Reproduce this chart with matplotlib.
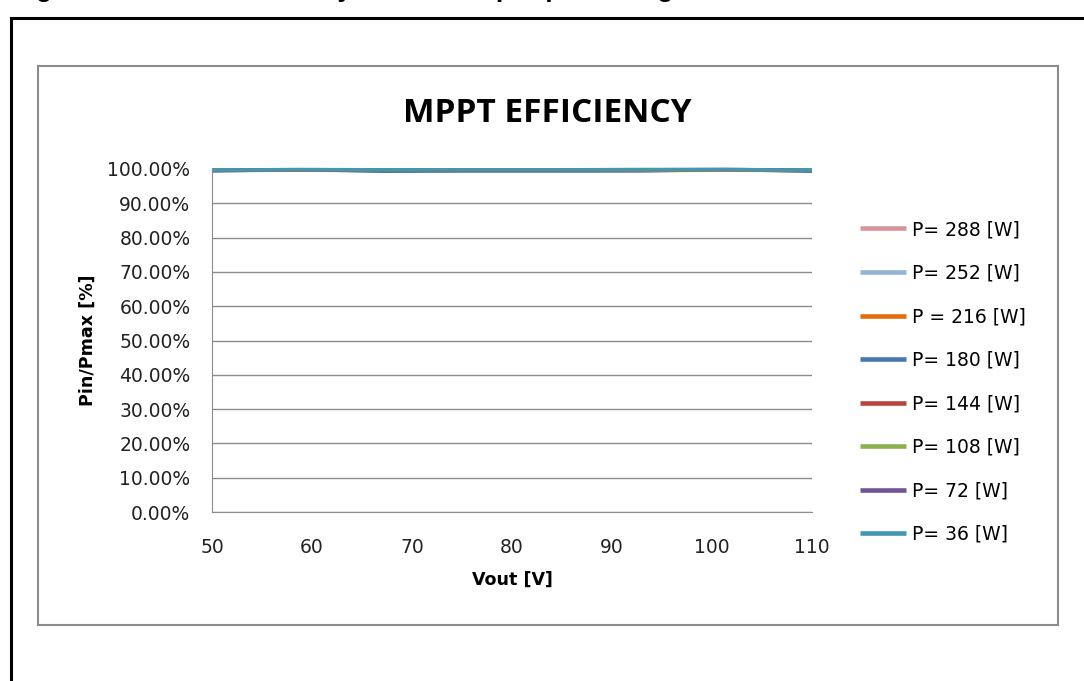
import matplotlib
matplotlib.use('agg')

import matplotlib.pyplot as plt
from matplotlib.patches import Rectangle
from matplotlib.lines import Line2D
from matplotlib.ticker import FuncFormatter

# data
vout = [50, 58.6, 67.1, 75.7, 84.3, 92.9, 101.4, 110]
labels = ["P= 288 [W]", "P= 252 [W]", "P = 216 [W]", "P= 180 [W]",
          "P= 144 [W]", "P= 108 [W]", "P= 72 [W]", "P= 36 [W]"]
colors = ["#D9969A", "#95B3D7", "#E46C0A", "#4A76AE",
          "#B8463F", "#8CB04C", "#6E5494", "#4198AF"]
eff_288 = [99.5, 99.6, 99.5, 99.5, 99.5, 99.5, 99.6, 99.5]
eff_252 = [99.5, 99.7, 99.5, 99.5, 99.5, 99.6, 99.7, 99.5]
eff_216 = [99.6, 99.7, 99.5, 99.6, 99.6, 99.6, 99.7, 99.5]
eff_180 = [99.4, 99.8, 99.3, 99.4, 99.4, 99.4, 99.8, 99.3]
eff_144 = [99.6, 99.8, 99.6, 99.6, 99.6, 99.7, 99.8, 99.6]
eff_108 = [99.6, 99.8, 99.6, 99.7, 99.7, 99.7, 99.8, 99.6]
eff_72 = [99.7, 99.8, 99.7, 99.7, 99.7, 99.8, 99.9, 99.7]
eff_36 = [99.7, 99.9, 99.8, 99.8, 99.8, 99.9, 99.9, 99.7]
series = [eff_288, eff_252, eff_216, eff_180, eff_144, eff_108, eff_72, eff_36]

W, H = 1084, 681
fig = plt.figure(figsize=(W / 100, H / 100), dpi=100)
fig.patch.set_facecolor("white")

# caption of the page, cut off at the top (only descenders show)
fig.text(12 / W, 1 + 4.5 / H, "Figure 34. MPPT efficiency versus output percentage",
         fontsize=19.4, fontweight="bold", family="Liberation Sans",
         ha="left", va="baseline")
fig.add_artist(Line2D([11 / W, 1.0], [1 - 18 / H, 1 - 18 / H], color="black", lw=2.2))
fig.add_artist(Line2D([11 / W, 11 / W], [0, 1 - 18 / H], color="black", lw=2.2))

# chart area box
fig.add_artist(Rectangle((38 / W, 1 - 625 / H), (1058 - 38) / W, (625 - 66) / H,
                         transform=fig.transFigure, fill=False,
                         edgecolor="#8C8C8C", lw=1.5))

ax = fig.add_axes([212 / W, 1 - 512 / H, 600 / W, (512 - 169) / H])

for vals, lab, col in zip(series, labels, colors):
    ax.plot(vout, [v / 100 for v in vals], color=col, lw=2.3, label=lab,
            solid_capstyle="butt", clip_on=False)

ax.set_xlim(50, 110)
ax.set_ylim(0, 1.0)
ax.set_xticks(range(50, 111, 10))
ax.set_yticks([i / 10 for i in range(11)])
ax.yaxis.set_major_formatter(FuncFormatter(lambda v, p: f"{v * 100:.2f}%"))
ax.grid(axis="y", color="#8C8C8C", lw=1)
ax.set_axisbelow(True)
for s in ["top", "right"]:
    ax.spines[s].set_visible(False)
ax.spines["left"].set_color("#8C8C8C")
ax.spines["bottom"].set_color("#8C8C8C")
ax.tick_params(length=0, labelsize=13.5, labelcolor="#222222")
ax.tick_params(axis="x", pad=19)
ax.tick_params(axis="y", pad=15.5)

ax.set_xlabel("Vout [V]", fontsize=12.6, fontweight="bold", va="center")
ax.xaxis.set_label_coords(0.5, -(580 - 512) / 343)
ax.set_ylabel("Pin/Pmax [%]", fontsize=12.6, fontweight="bold", va="center")
ax.yaxis.set_label_coords(-(212 - 88) / 600, 0.5)

fig.text(547 / W, 1 - 113 / H, "MPPT EFFICIENCY", fontsize=24, fontweight="bold",
         family="Open Sans", ha="center", va="center")

leg = ax.legend(loc="upper left", bbox_to_anchor=(860 / W, 1 - 220 / H),
                bbox_transform=fig.transFigure, frameon=False, fontsize=13.5,
                handlelength=2.45, handletextpad=0.3, labelspacing=1.31,
                borderaxespad=0, borderpad=0)
for ln in leg.get_lines():
    ln.set_linewidth(3.3)

fig.savefig("out.png", dpi=100)
